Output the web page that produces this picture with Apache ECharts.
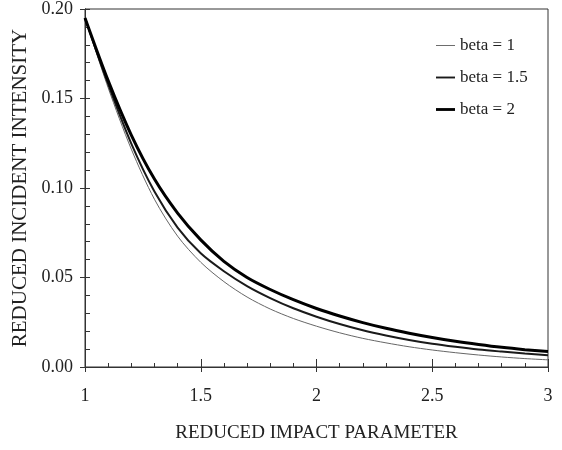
<!DOCTYPE html>
<html>
<head>
<meta charset="utf-8">
<script src="https://cdn.jsdelivr.net/npm/echarts@6/dist/echarts.min.js"></script>
<style>
  html, body { margin: 0; padding: 0; background: #fff; }
  #chart { width: 562px; height: 450px; }
</style>
</head>
<body>
<div id="chart"></div>
<script>
// Reduced impact parameter (x) and reduced incident intensity for three beta values
const impactParam = [1.0, 1.1, 1.2, 1.3, 1.4, 1.5, 1.6, 1.7, 1.8, 1.9, 2.0,
                     2.1, 2.2, 2.3, 2.4, 2.5, 2.6, 2.7, 2.8, 2.9, 3.0];
const intensityBeta1 = [0.195, 0.156, 0.1217, 0.0937, 0.0731, 0.0585, 0.0477, 0.0391, 0.0324, 0.0271, 0.0228,
                        0.0191, 0.0160, 0.0135, 0.0113, 0.0095, 0.0080, 0.0067, 0.0056, 0.0047, 0.0040];
const intensityBeta15 = [0.195, 0.158, 0.1248, 0.0980, 0.0779, 0.0635, 0.0535, 0.0452, 0.0385, 0.0328, 0.0281,
                         0.0240, 0.0205, 0.0176, 0.0151, 0.0130, 0.0113, 0.0098, 0.0086, 0.0075, 0.0066];
const intensityBeta2 = [0.195, 0.160, 0.1296, 0.1050, 0.0860, 0.0710, 0.0590, 0.0500, 0.0433, 0.0376, 0.0327,
                        0.0285, 0.0248, 0.0216, 0.0189, 0.0165, 0.0144, 0.0126, 0.0110, 0.0097, 0.0086];
const seriesNames = ['beta = 1', 'beta = 1.5', 'beta = 2'];
const xTitle = 'REDUCED IMPACT PARAMETER';
const yTitle = 'REDUCED INCIDENT INTENSITY';

const pairs = ys => impactParam.map((x, i) => [x, ys[i]]);
const FONT = '"Liberation Serif", "Times New Roman", serif';
const INK = '#222';
const colors = ['#666', '#1a1a1a', '#000'];
const widths = [1, 2, 3];

const baseX = {
  type: 'value', min: 1, max: 3, interval: 0.5, position: 'bottom',
  axisLine: { show: true, onZero: false, lineStyle: { color: '#333', width: 1 } },
  splitLine: { show: false }
};
const baseY = {
  type: 'value', min: 0, max: 0.2, interval: 0.05, position: 'left',
  axisLine: { show: true, onZero: false, lineStyle: { color: '#333', width: 1 } },
  splitLine: { show: false }
};

// legend swatches: flat bars whose height follows each line width
const legendData = seriesNames.map((name, i) => ({
  name,
  icon: 'path://M0 0H20V' + widths[i] + 'H0Z',
  itemStyle: { color: colors[i] }
}));

const chart = echarts.init(document.getElementById('chart'), null, { renderer: 'canvas' });
chart.setOption({
  animation: false,
  backgroundColor: '#fff',
  grid: {
    left: 85, right: 14, top: 7, bottom: 83,
    show: true, borderColor: '#333', borderWidth: 1, backgroundColor: 'transparent'
  },
  legend: {
    orient: 'vertical', left: 431, top: 32, itemGap: 15,
    itemWidth: 19, itemHeight: 12,
    textStyle: { fontFamily: FONT, fontSize: 17, color: INK },
    data: legendData
  },
  xAxis: [
    Object.assign({}, baseX, {
      name: xTitle, nameLocation: 'middle', nameGap: 57,
      nameTextStyle: { fontFamily: FONT, fontSize: 19, color: INK },
      axisTick: { show: true, inside: false, length: 5, lineStyle: { color: '#333' } },
      axisLabel: { fontFamily: FONT, fontSize: 18, color: INK, margin: 20 }
    }),
    Object.assign({}, baseX, {
      axisTick: { show: true, inside: true, length: 8, lineStyle: { color: '#333' } },
      minorTick: { show: true, splitNumber: 5, length: 4, lineStyle: { color: '#333' } },
      axisLabel: { show: false }
    })
  ],
  yAxis: [
    Object.assign({}, baseY, {
      name: yTitle, nameLocation: 'middle', nameGap: 48, nameRotate: 90,
      nameTextStyle: { fontFamily: FONT, fontSize: 21, color: INK },
      axisTick: { show: true, inside: false, length: 5, lineStyle: { color: '#333' } },
      axisLabel: { fontFamily: FONT, fontSize: 18, color: INK, margin: 12,
                   formatter: v => v.toFixed(2) }
    }),
    Object.assign({}, baseY, {
      axisTick: { show: true, inside: true, length: 5, lineStyle: { color: '#333' } },
      minorTick: { show: true, splitNumber: 5, length: 5, lineStyle: { color: '#333' } },
      axisLabel: { show: false }
    })
  ],
  series: [intensityBeta1, intensityBeta15, intensityBeta2].map((ys, i) => ({
    name: seriesNames[i], type: 'line', data: pairs(ys), smooth: 0.3,
    symbol: 'none', color: colors[i], lineStyle: { width: widths[i], color: colors[i] }
  }))
});
</script>
</body>
</html>
